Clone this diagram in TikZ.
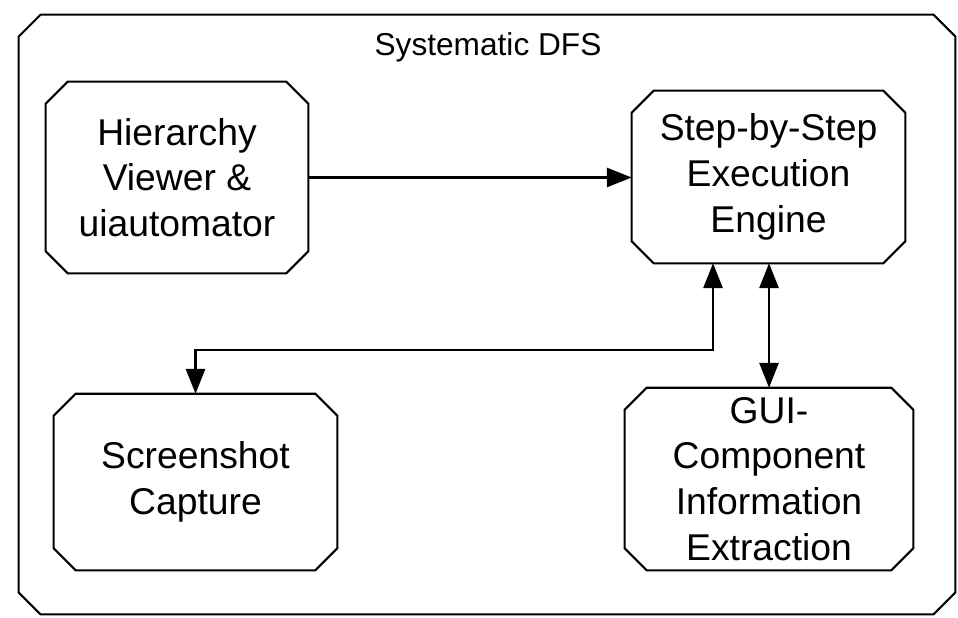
\documentclass[tikz,border=0pt]{standalone}
\usepackage{fontspec}
\setmainfont{Liberation Sans}
\usetikzlibrary{arrows.meta}

\tikzset{
  bloco/.style={rectangle, inner sep=0pt, align=center,
    font=\fontsize{26.5}{32.5}\selectfont},
  chanfro/.style={line width=1.5pt, line join=miter},
  seta/.style={line width=1.5pt, -{Triangle[length=0.62cm,width=0.48cm]}},
  setas/.style={line width=1.5pt, {Triangle[length=0.62cm,width=0.48cm]}-{Triangle[length=0.62cm,width=0.48cm]}}
}

\begin{document}
\begin{tikzpicture}[x=0.025cm, y=-0.025cm]
      \useasboundingbox (0,0) rectangle (958,617);

      % Moldura
      \node[bloco, minimum width=23.4cm, minimum height=14.975cm] (frame) at (487,314.5) {};
      \node[font=\fontsize{22.5}{26}\selectfont] (title) at (488,47) {Systematic DFS};

      % Blocos
      \node[bloco, minimum width=6.55cm, minimum height=4.775cm] (hier) at (177,177.5)
        {Hierarchy\\Viewer \&\\uiautomator};
      \node[bloco, minimum width=6.825cm, minimum height=4.3cm] (step) at (768.5,177)
        {Step-by-Step\\Execution\\Engine};
      \node[bloco, minimum width=7.075cm, minimum height=4.4cm] (shot) at (195.5,482)
        {Screenshot\\Capture};
      \node[bloco, minimum width=7.2cm, minimum height=4.55cm] (gui) at (769,479)
        {GUI-\\Component\\Information\\Extraction};

      % Cantos chanfrados
      \foreach \n in {frame,hier,step,shot,gui} {
        \draw[chanfro] ([xshift=0.55cm]\n.north west) -- ([xshift=-0.55cm]\n.north east)
          -- ([yshift=-0.55cm]\n.north east) -- ([yshift=0.55cm]\n.south east)
          -- ([xshift=-0.55cm]\n.south east) -- ([xshift=0.55cm]\n.south west)
          -- ([yshift=0.55cm]\n.south west) -- ([yshift=-0.55cm]\n.north west) -- cycle;
      }

      % Ligacoes
      \coordinate (bend) at (713,350);
      \draw[seta] (hier.east) -- (hier.east -| step.west);
      \draw[setas] (step.south -| bend) -- (bend) -| (shot.north);
      \draw[setas] (step.south -| gui.north) -- (gui.north);
  \end{tikzpicture}
\end{document}
